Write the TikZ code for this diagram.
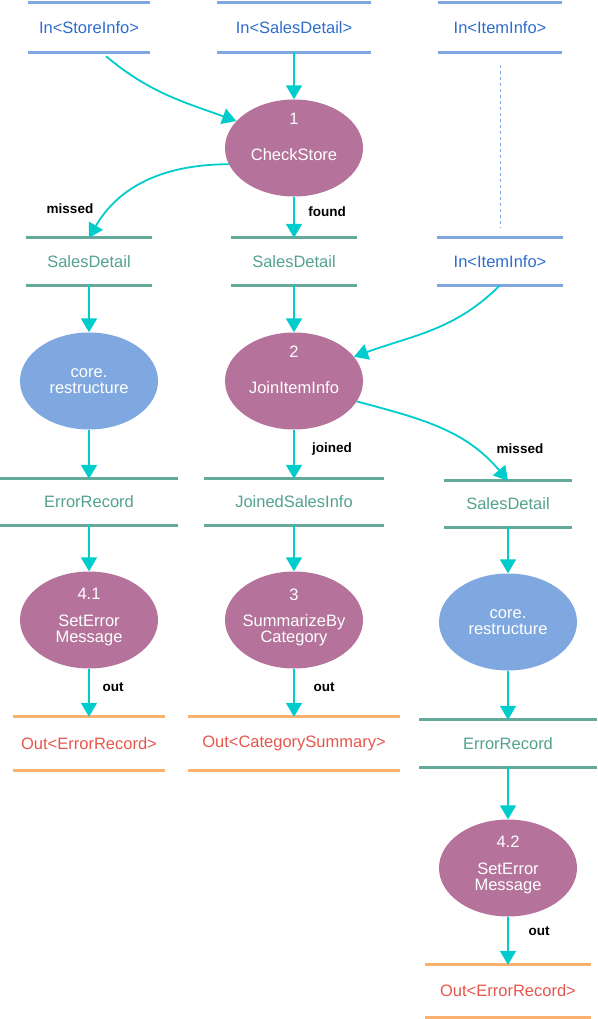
\documentclass[tikz,border=0pt]{standalone}
\usepackage{fontspec}
\setmainfont{Liberation Sans}
\usetikzlibrary{shapes.geometric,arrows.meta}

\definecolor{inblue}{HTML}{80A8E0}
\definecolor{intext}{HTML}{2E6DCE}
\definecolor{midgreen}{HTML}{63AA9A}
\definecolor{midtext}{HTML}{52A28E}
\definecolor{outorange}{HTML}{FAB06E}
\definecolor{outtext}{HTML}{E6564C}
\definecolor{procpurple}{HTML}{B5739B}
\definecolor{flowcyan}{HTML}{00CCCC}

\begin{document}
\begin{tikzpicture}[x=1pt,y=-1pt,
    store/.style={inner sep=0pt, font=\fontsize{16.5}{18}\selectfont},
    instore/.style={store, text=intext},
    midstore/.style={store, text=midtext},
    outstore/.style={store, text=outtext},
    proc/.style={ellipse, fill=procpurple, text=white, inner xsep=-10pt, inner ysep=-2pt,
                 minimum width=138pt, minimum height=97pt, align=center,
                 font=\fontsize{16.5}{16}\selectfont},
    lib/.style={proc, fill=inblue},
    flow/.style={draw=flowcyan, line width=1.8pt, -{Triangle[width=16pt,length=14pt]}},
    lbl/.style={font=\fontsize{13.5}{15}\bfseries\selectfont}]
    \useasboundingbox (0,0) rectangle (597,1019);

    %inputs
    \node[instore, minimum width=122pt, minimum height=49pt] (si) at (89,27.5) {In<StoreInfo>};
    \node[instore, minimum width=154pt, minimum height=49pt] (sdin) at (294,27.5) {In<SalesDetail>};
    \node[instore, minimum width=124pt, minimum height=49pt] (ii1) at (500,27.5) {In<ItemInfo>};
    \node[instore, minimum width=125pt, minimum height=47pt] (ii2) at (500,261.5) {In<ItemInfo>};

    %intermediate stores
    \node[midstore, minimum width=126pt, minimum height=47pt] (sd1) at (89,261.5) {SalesDetail};
    \node[midstore, minimum width=126pt, minimum height=47pt] (sd2) at (294,261.5) {SalesDetail};
    \node[midstore, minimum width=177pt, minimum height=46pt] (er1) at (89,502) {ErrorRecord};
    \node[midstore, minimum width=179pt, minimum height=46pt] (jsi) at (294,502) {JoinedSalesInfo};
    \node[midstore, minimum width=127pt, minimum height=46pt] (sd3) at (508,504) {SalesDetail};
    \node[midstore, minimum width=178pt, minimum height=47pt] (er2) at (508,743.5) {ErrorRecord};

    %outputs
    \node[outstore, minimum width=152pt, minimum height=53pt] (out1) at (89,743.5) {Out<ErrorRecord>};
    \node[outstore, minimum width=211pt, minimum height=53pt] (outcs) at (294,743.5) {Out<CategorySummary>};
    \node[outstore, minimum width=166pt, minimum height=52pt] (out2) at (508,991) {Out<ErrorRecord>};

    \foreach \n in {si,sdin,ii1,ii2}
        \draw[inblue, line width=3pt] (\n.north west) -- (\n.north east) (\n.south west) -- (\n.south east);
    \foreach \n in {sd1,sd2,er1,jsi,sd3,er2}
        \draw[midgreen, line width=3pt] (\n.north west) -- (\n.north east) (\n.south west) -- (\n.south east);
    \foreach \n in {out1,outcs,out2}
        \draw[outorange, line width=3pt] (\n.north west) -- (\n.north east) (\n.south west) -- (\n.south east);

    %processes
    \node[proc, text depth=22pt] (cs) at (294,148) {1\\[20pt]CheckStore};
    \node[proc, text depth=22pt] (jii) at (294,381) {2\\[20pt]JoinItemInfo};
    \node[lib] (cr1) at (89,381) {core.\\restructure};
    \node[proc, text depth=9pt] (sem1) at (89,620) {4.1\\[11pt]SetError\\Message};
    \node[proc, text depth=9pt] (sbc) at (294,620) {3\\[10pt]SummarizeBy\\Category};
    \node[lib] (cr2) at (508,622) {core.\\restructure};
    \node[proc, text depth=9pt] (sem2) at (508,868) {4.2\\[11pt]SetError\\Message};

    %flows
    \draw[flow] ([xshift=17pt,yshift=-4pt]si.south) to[out=-40,in=160] (cs.155);
    \draw[flow] (sdin) -- (cs);
    \draw[flow] (cs.194) to[out=180,in=60] (sd1.north);
    \draw[flow] (cs) -- (sd2);
    \draw[inblue, line width=0.8pt, dash pattern=on 3pt off 3pt, shorten <=13pt, shorten >=10pt] (ii1) -- (ii2);
    \draw[flow] (sd1) -- (cr1);
    \draw[flow] (sd2) -- (jii);
    \draw[flow] (ii2.south) to[out=-135,in=20] (jii.22);
    \draw[flow] (cr1) -- (er1);
    \draw[flow] (jii) -- (jsi);
    \draw[flow] (jii.-18) to[out=-15,in=130] (sd3.north);
    \draw[flow] (er1) -- (sem1);
    \draw[flow] (jsi) -- (sbc);
    \draw[flow] (sd3) -- (cr2);
    \draw[flow] (sem1) -- (out1);
    \draw[flow] (sbc) -- (outcs);
    \draw[flow] (cr2) -- (er2);
    \draw[flow] (er2) -- (sem2);
    \draw[flow] (sem2) -- (out2);

    %flow labels
    \node[lbl] (l1) at (70,209) {missed};
    \node[lbl] (l2) at (327,212) {found};
    \node[lbl] (l3) at (332,449) {joined};
    \node[lbl] (l4) at (520,449) {missed};
    \node[lbl] (l5) at (113,687) {out};
    \node[lbl] (l6) at (324,687) {out};
    \node[lbl] (l7) at (539,931) {out};
\end{tikzpicture}
\end{document}
